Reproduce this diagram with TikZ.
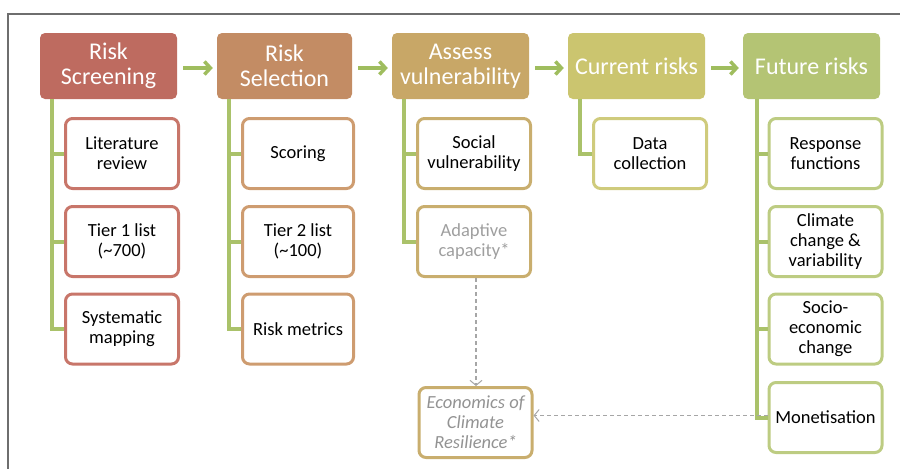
\documentclass[tikz,border=0pt]{standalone}
\usepackage{fontspec}
\setmainfont{Carlito}
\usetikzlibrary{arrows.meta}
\definecolor{hA}{HTML}{BE6B60}
\definecolor{hB}{HTML}{C38C64}
\definecolor{hC}{HTML}{C8A767}
\definecolor{hD}{HTML}{CBC56F}
\definecolor{hE}{HTML}{B4C474}
\definecolor{bA}{HTML}{C8766A}
\definecolor{bB}{HTML}{CE9C70}
\definecolor{bC}{HTML}{C9AE6E}
\definecolor{bD}{HTML}{CFCB7C}
\definecolor{bE}{HTML}{BDCC82}
\definecolor{trunkc}{HTML}{AAC26A}
\definecolor{arrc}{HTML}{9FBD5E}
\definecolor{framec}{HTML}{6E6E6E}
\tikzset{
  hdr/.style={rounded corners=5pt, fill=#1, text=white, minimum width=137pt, minimum height=66pt,
    align=center, inner sep=0pt, font=\fontsize{24}{25}\selectfont},
  sub/.style={rounded corners=7pt, draw=#1, line width=3pt, fill=white, minimum width=113pt,
    minimum height=70pt, align=center, inner sep=0pt, font=\fontsize{18.5}{20}\selectfont},
  branch/.style={draw=trunkc, line width=4pt},
  flow/.style={draw=arrc, line width=3.5pt, -{Straight Barb[length=6pt,width=13pt,line width=3.5pt]}},
  dasharr/.style={draw=gray!70, line width=1.2pt, dashed, dash pattern=on 4pt off 3pt,
    -{Straight Barb[length=5pt,width=12pt,line width=1pt]}}
}
\begin{document}
\begin{tikzpicture}[x=1pt,y=-1pt]
\useasboundingbox (0,0) rectangle (900,469);
\coordinate (ftl) at (7.5,14);
\coordinate (ftr) at (900,14);
\coordinate (fbl) at (7.5,469);
\draw[framec, line width=2pt] (ftr) -- (ftl) -- (fbl);

% headers
\node[hdr=hA] (h1) at (108.5,66) {Risk\\Screening};
\node[hdr=hB, minimum width=135pt] (h2) at (284.5,66) {Risk\\Selection};
\node[hdr=hC] (h3) at (460.5,66) {Assess\\vulnerability};
\node[hdr=hD] (h4) at (636.5,66) {Current risks};
\node[hdr=hE] (h5) at (811.5,66) {Future risks};

\draw[flow] ([xshift=6pt,yshift=-2pt]h1.east) -- ([xshift=-4pt,yshift=-2pt]h2.west);
\draw[flow] ([xshift=6pt,yshift=-2pt]h2.east) -- ([xshift=-4pt,yshift=-2pt]h3.west);
\draw[flow] ([xshift=6pt,yshift=-2pt]h3.east) -- ([xshift=-4pt,yshift=-2pt]h4.west);
\draw[flow] ([xshift=6pt,yshift=-2pt]h4.east) -- ([xshift=-4pt,yshift=-2pt]h5.west);

% column 1
\node[sub=bA] (c11) at (122,153.5) {Literature\\review};
\node[sub=bA] (c12) at (122,241.5) {Tier 1 list\\(\textasciitilde 700)};
\node[sub=bA] (c13) at (122,329) {Systematic\\mapping};
% column 2
\node[sub=bB, minimum width=111pt] (c21) at (298,153.5) {Scoring};
\node[sub=bB, minimum width=111pt] (c22) at (298,241.5) {Tier 2 list\\(\textasciitilde 100)};
\node[sub=bB, minimum width=111pt] (c23) at (298,329) {Risk metrics};
% column 3
\node[sub=bC] (c31) at (474,153.5) {Social\\vulnerability};
\node[sub=bC, text=gray!75] (c32) at (474,241.5) {Adaptive\\capacity*};
% column 4
\node[sub=bD] (c41) at (650,153.5) {Data\\collection};
% column 5
\node[sub=bE] (c51) at (825.5,153.5) {Response\\functions};
\node[sub=bE] (c52) at (825.5,241.5) {Climate\\change \&\\variability};
\node[sub=bE] (c53) at (825.5,329) {Socio-\\economic\\change};
\node[sub=bE] (c54) at (825.5,417.5) {Monetisation};
% economics
\node[sub=bC, text=gray!85, font=\fontsize{18.5}{20}\selectfont\itshape] (eco) at (475.5,422.5) {Economics of\\Climate\\Resilience*};

% trunks and branches
\draw[branch] (c13.west) -| ([xshift=-12pt]c11.west |- h1.south);
\draw[branch] (c11.west) -- ++(-12,0);
\draw[branch] (c12.west) -- ++(-12,0);
\draw[branch] (c23.west) -| ([xshift=-12pt]c21.west |- h2.south);
\draw[branch] (c21.west) -- ++(-12,0);
\draw[branch] (c22.west) -- ++(-12,0);
\draw[branch] (c32.west) -| ([xshift=-12pt]c31.west |- h3.south);
\draw[branch] (c31.west) -- ++(-12,0);
\draw[branch] (c41.west) -| ([xshift=-12pt]c41.west |- h4.south);
\draw[branch] (c54.west) -| ([xshift=-11pt]c51.west |- h5.south);
\draw[branch] (c51.west) -- ++(-11,0);
\draw[branch] (c52.west) -- ++(-11,0);
\draw[branch] (c53.west) -- ++(-11,0);

% dashed arrows
\draw[dasharr] ([xshift=2pt]c32.south) -- ([xshift=2pt]c32.south |- eco.north);
\draw[dasharr] ([yshift=2pt]c54.west) -- ([yshift=2pt]c54.west -| eco.east);
\end{tikzpicture}
\end{document}
